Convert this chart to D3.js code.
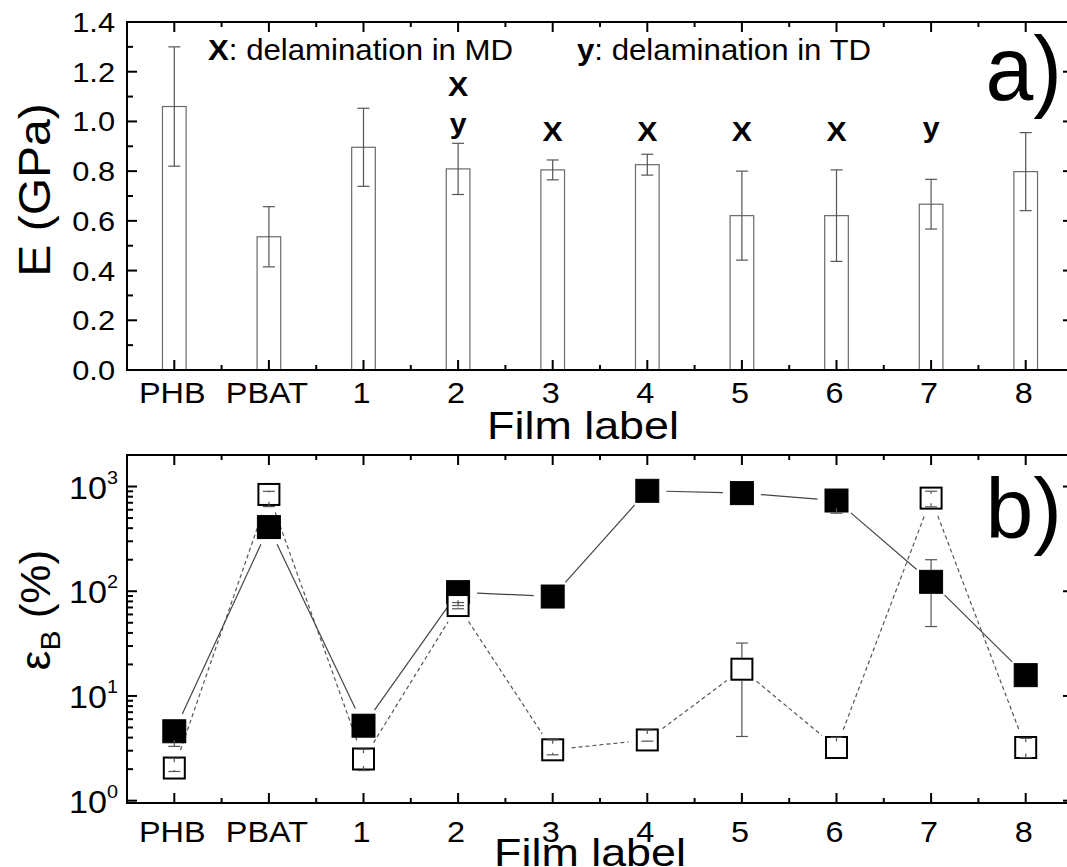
<!DOCTYPE html>
<html><head><meta charset="utf-8">
<script src="https://cdn.jsdelivr.net/npm/d3@7"></script>
<style>
body{margin:0;background:#fff}
svg{display:block;background:#fff}
text{font-family:"Liberation Sans",Arial,sans-serif;fill:#000}
</style>
</head><body>
<svg id="c" width="1067" height="867"></svg>
<script>
// ---------------- data ----------------
const categories = ["PHB","PBAT","1","2","3","4","5","6","7","8"];
// panel a: Young's modulus (GPa)
const modulus    = [1.06, 0.536, 0.896, 0.809, 0.805, 0.826, 0.621, 0.621, 0.667, 0.798];
const modulusErr = [0.24, 0.121, 0.157, 0.103, 0.040, 0.042, 0.179, 0.184, 0.100, 0.157];
const mdDelam = ["2","3","4","5","6"];   // "X" marks
const tdDelam = ["2","7"];               // "y" marks
const yTicksA = [0.0,0.2,0.4,0.6,0.8,1.0,1.2,1.4];
// panel b: strain at break (%)
const strainFilled   = [4.6, 410, 5.2, 98, 89, 910, 865, 735, 123, 15.8];
const strainFilledLo = [3.3, 400, 5.0, 73, 88, 900, 850, 556, 46, 15.5];
const strainFilledHi = [4.8, 420, 5.4, 100, 91, 920, 880, 760, 200, 16.2];
const strainOpen     = [2.05, 840, 2.5, 73, 3.06, 3.8, 18, 3.22, 775, 3.22];
const strainOpenLo   = [1.9, 643, 1.94, 68, 2.74, 3.7, 4.1, 3.15, 640, 2.58];
const strainOpenHi   = [2.54, 900, 3.1, 78, 3.81, 4.73, 32, 4.03, 902, 3.94];
const yTicksB = [1, 10, 100, 1000];
const yTickExpB = ["0","1","2","3"];

// ---------------- layout ----------------
const svg = d3.select("#c");
const L = 127, R = 1073;
const A = {top:22, bottom:370};
const B = {top:455, bottom:803};
const SX = 1.08;

const xi = d3.scaleLinear().domain([-0.5, 9.5]).range([L, R]);
const xc = d => xi(categories.indexOf(d));
const step = xi(1) - xi(0);

const yA = d3.scaleLinear().domain([0, 1.4]).range([A.bottom, A.top]);
const yB = d3.scaleLog().domain([0.95, 2000]).range([B.bottom, B.top]);

function txt(g, x, y, s, size, opts={}) {
  const t = g.append("text")
    .attr("transform", `translate(${x},${y}) scale(${opts.sx||SX},${opts.sy||1})${opts.rot?` rotate(${opts.rot})`:""}`)
    .attr("font-size", size)
    .attr("text-anchor", opts.anchor || "middle")
    .attr("font-weight", opts.bold ? "bold" : "normal");
  if (s !== null) t.text(s);
  return t;
}

function frameAndXTicks(P) {
  const g = svg.append("g");
  categories.forEach((c,i) => {
    [[P.bottom, -1],[P.top, 1]].forEach(([y0, dir]) => {
      g.append("line").attr("x1", xi(i)).attr("x2", xi(i))
        .attr("y1", y0).attr("y2", y0 + dir*10).attr("stroke","#000").attr("stroke-width",2);
    });
  });
  for (let i = 0; i < categories.length - 1; i++) {
    [[P.bottom, -1],[P.top, 1]].forEach(([y0, dir]) => {
      g.append("line").attr("x1", xi(i+0.5)).attr("x2", xi(i+0.5))
        .attr("y1", y0).attr("y2", y0 + dir*5).attr("stroke","#000").attr("stroke-width",2);
    });
  }
  g.append("rect").attr("x", L).attr("y", P.top).attr("width", R-L).attr("height", P.bottom-P.top)
    .attr("fill","none").attr("stroke","#000").attr("stroke-width",2);
  return g;
}

// ================= PANEL A =================
const gA = svg.append("g");
const bw = step * 0.25;
gA.selectAll("rect.bar").data(categories).enter().append("rect")
  .attr("x", d => xc(d) - bw/2).attr("width", bw)
  .attr("y", (d,i) => yA(modulus[i])).attr("height", (d,i) => yA(0) - yA(modulus[i]))
  .attr("fill","#fff").attr("stroke","#6a6a6a").attr("stroke-width",1.2);
categories.forEach((c,i) => {
  const x = xc(c), hi = yA(modulus[i]+modulusErr[i]), lo = yA(modulus[i]-modulusErr[i]);
  gA.append("line").attr("x1",x).attr("x2",x).attr("y1",hi).attr("y2",lo).attr("stroke","#555").attr("stroke-width",1.2);
  [hi, lo].forEach(y => gA.append("line").attr("x1",x-6).attr("x2",x+6).attr("y1",y).attr("y2",y).attr("stroke","#555").attr("stroke-width",1.2));
});
frameAndXTicks(A);
const yMinorA = d3.range(0.1, 1.4, 0.2);
yTicksA.forEach(v => {
  [[L,1],[R,-1]].forEach(([x0,dir]) => gA.append("line").attr("x1",x0).attr("x2",x0+dir*10)
    .attr("y1",yA(v)).attr("y2",yA(v)).attr("stroke","#000").attr("stroke-width",2));
  txt(gA, 115, yA(v)+10, v.toFixed(1), 28.5, {anchor:"end"});
});
yMinorA.forEach(v => {
  [[L,1],[R,-1]].forEach(([x0,dir]) => gA.append("line").attr("x1",x0).attr("x2",x0+dir*6)
    .attr("y1",yA(v)).attr("y2",yA(v)).attr("stroke","#000").attr("stroke-width",2));
});
categories.forEach(c => txt(gA, xc(c)-2, 403, c, 30));
txt(gA, 583, 439, "Film label", 39, {sx:1.15});
txt(gA, 50, 190, "E (GPa)", 48, {rot:-90, sx:0.92});
const lg1 = txt(gA, 208, 60, null, 30, {anchor:"start", sx:1.04});
lg1.append("tspan").attr("font-weight","bold").text("X");
lg1.append("tspan").text(": delamination in MD");
const lg2 = txt(gA, 577, 60, null, 30, {anchor:"start", sx:1.04});
lg2.append("tspan").attr("font-weight","bold").text("y");
lg2.append("tspan").text(": delamination in TD");
mdDelam.forEach(c => {
  const both = tdDelam.includes(c);
  txt(gA, xc(c), both ? 96 : 141, "X", 28, {bold:true});
});
tdDelam.forEach(c => txt(gA, xc(c), c === "2" ? 133 : 137, "y", 28, {bold:true}));
txt(gA, 1062, 100, "a)", 86, {anchor:"end", sx:1.0, sy:1.05});

// ================= PANEL B =================
const gB = svg.append("g");
const ms = 23;
function trimmedLines(vals, dash) {
  const pts = categories.map((c,i) => [xc(c), yB(vals[i])]);
  for (let i = 0; i < pts.length-1; i++) {
    const [x1,y1] = pts[i], [x2,y2] = pts[i+1];
    const dx = x2-x1, dy = y2-y1, len = Math.hypot(dx,dy), t = 19/len;
    if (len < 40) continue;
    gB.append("line").attr("x1", x1+dx*t).attr("y1", y1+dy*t).attr("x2", x2-dx*t).attr("y2", y2-dy*t)
      .attr("stroke", dash ? "#555" : "#444").attr("stroke-width", 1.2)
      .attr("stroke-dasharray", dash ? "4,3" : null);
  }
}
function errBars(vals, lo, hi, skipInside) {
  categories.forEach((c,i) => {
    const x = xc(c), yc = yB(vals[i]);
    [lo[i], hi[i]].forEach(v => {
      const y = yB(v), d = Math.abs(y-yc);
      if (d < 1) return;
      if (skipInside && d < ms/2 + 0.5) return;
      const gap = Math.min(ms/2, d*0.6);
      const yEnd = yc + Math.sign(y-yc)*gap;
      gB.append("line").attr("x1",x).attr("x2",x).attr("y1",y).attr("y2",yEnd).attr("stroke","#555").attr("stroke-width",1.2);
      gB.append("line").attr("x1",x-6).attr("x2",x+6).attr("y1",y).attr("y2",y).attr("stroke","#555").attr("stroke-width",1.2);
    });
  });
}
trimmedLines(strainOpen, true);
trimmedLines(strainFilled, false);
gB.selectAll("rect.f").data(categories).enter().append("rect")
  .attr("x", d => xc(d)-ms/2).attr("y", (d,i) => yB(strainFilled[i])-ms/2)
  .attr("width", ms).attr("height", ms).attr("fill","#000").attr("stroke","#000").attr("stroke-width",1);
gB.selectAll("rect.o").data(categories).enter().append("rect")
  .attr("x", d => xc(d)-ms/2+1).attr("y", (d,i) => yB(strainOpen[i])-ms/2+1)
  .attr("width", ms-2).attr("height", ms-2).attr("fill","#fff").attr("stroke","#000").attr("stroke-width",2);
errBars(strainOpen, strainOpenLo, strainOpenHi, false);
errBars(strainFilled, strainFilledLo, strainFilledHi, true);
frameAndXTicks(B);
yTicksB.forEach((v,k) => {
  [[L,1],[R,-1]].forEach(([x0,dir]) => gB.append("line").attr("x1",x0).attr("x2",x0+dir*10)
    .attr("y1",yB(v)).attr("y2",yB(v)).attr("stroke","#000").attr("stroke-width",2));
  const t = txt(gB, 118, yB(v)+12, null, 31, {anchor:"end", sx:1.1});
  t.append("tspan").text("10");
  t.append("tspan").attr("font-size",18).attr("dy",-15).text(yTickExpB[k]);
});
[1,10,100,1000].forEach(dec => {
  for (let m = 2; m <= 9; m++) {
    const v = dec*m;
    if (v > 2000) continue;
    [[L,1],[R,-1]].forEach(([x0,dir]) => gB.append("line").attr("x1",x0).attr("x2",x0+dir*6)
      .attr("y1",yB(v)).attr("y2",yB(v)).attr("stroke","#000").attr("stroke-width",2));
  }
});
categories.forEach(c => txt(gB, xc(c)-2, 842, c, 30));
txt(gB, 590, 866, "Film label", 39, {sx:1.15});
const yl = txt(gB, 50, 610, null, 44, {rot:-90, sx:0.95});
yl.append("tspan").text("ε");
yl.append("tspan").attr("font-size",30).attr("dy",11).text("B");
yl.append("tspan").attr("dy",-11).text(" (%)");
txt(gB, 1062, 538, "b)", 86, {anchor:"end", sx:1.0, sy:1.0});
</script>
</body></html>
